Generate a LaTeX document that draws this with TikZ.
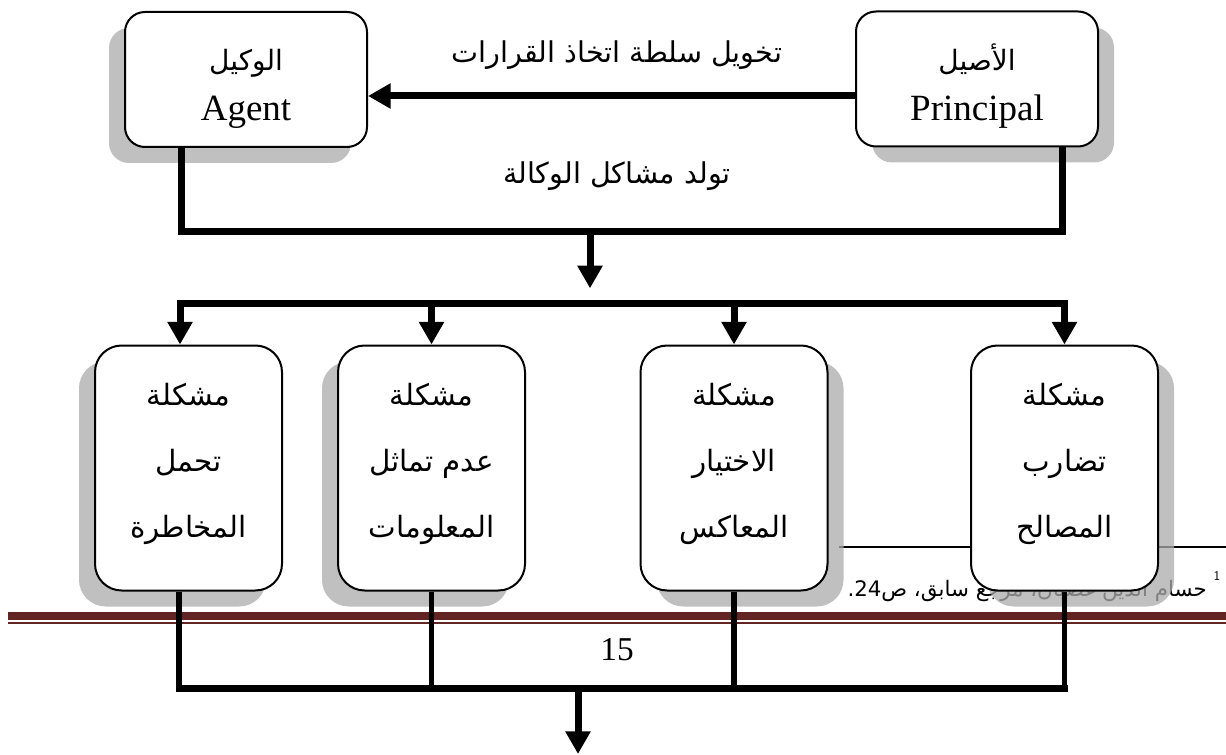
\documentclass[tikz,border=0pt]{standalone}
\usepackage{fontspec}
\setmainfont{Liberation Serif}
\newfontfamily\arabicfont[Script=Arabic]{DejaVu Sans}
\TeXXeTstate=1
\usetikzlibrary{arrows.meta,shadows,calc}
\definecolor{shadowgray}{RGB}{171,171,171}
\definecolor{rulemaroon}{RGB}{99,37,35}
% right-to-left Arabic run at a given size
\newcommand\artxt[2][21]{{\arabicfont\fontsize{#1}{#1}\selectfont\beginR #2\endR}}
% struts that push the text block of a box down or up
\newcommand\topstrut{\rule{0pt}{30pt}}
\newcommand\lowstrut{\rule[-12pt]{0pt}{12pt}}
\begin{document}
\begin{tikzpicture}[x=0.75pt,y=-0.75pt,
  box/.style={draw, line width=1.5pt, fill=white, align=center, inner sep=0pt},
  topbox/.style={box, rounded corners=15pt, minimum width=181.5pt, minimum height=101.25pt,
    font=\fontsize{27.75}{37.5}\selectfont},
  lowbox/.style={box, rounded corners=20pt, minimum width=140.25pt, minimum height=183.75pt,
    font=\fontsize{22.5}{49.5}\selectfont},
  shadowleft/.style={drop shadow={shadow xshift=-12pt, shadow yshift=-12pt, fill=shadowgray, opacity=0.75}},
  shadowright/.style={drop shadow={shadow xshift=12pt, shadow yshift=-12pt, fill=shadowgray, opacity=0.75}},
  heavy/.style={line width=5.25pt},
  feeder/.style={line width=4.3pt},
  tip/.style={-{Triangle[length=17pt,width=18pt]}},
]
\useasboundingbox (0,0) rectangle (1226,755);

% footnote of the page
\draw[line width=1pt] (839,547) -- (1226,547);
\node[anchor=base east, inner sep=0pt] (fntext) at (1207,596)
  {\artxt[16]{حسام الدين غضبان، مرجع سابق، ص\beginL 24\endL.}};
\node[anchor=base, inner sep=0pt, font=\sffamily\fontsize{10}{10}\selectfont] (fnmark) at (1217,580) {1};

% page separator and page number
\fill[rulemaroon] (8,612) rectangle (1226,620);
\fill[rulemaroon] (8,622) rectangle (1226,624);
\node[font=\fontsize{25}{25}\selectfont] (pageno) at (617,650) {15};

% principal and agent
\node[topbox, shadowleft] (agent) at (246,79.5) {\topstrut\artxt{الوكيل}\\Agent};
\node[topbox, shadowright] (principal) at (977,79) {\topstrut\artxt{الأصيل}\\Principal};

\node (delegate) at (617,55) {\artxt[21.5]{تخويل سلطة اتخاذ القرارات}};
\node (agency) at (617,176) {\artxt[21.5]{تولد مشاكل الوكالة}};

% the four agency problems
\node[lowbox, shadowleft] (risk) at (188.5,468)
  {\artxt[22]{مشكلة}\\\artxt[22]{تحمل}\\\artxt[22]{المخاطرة}\lowstrut};
\node[lowbox, shadowleft] (asym) at (431.5,468)
  {\artxt[22]{مشكلة}\\\artxt[22]{عدم تماثل}\\\artxt[22]{المعلومات}\lowstrut};
\node[lowbox, shadowright] (adverse) at (734,468)
  {\artxt[22]{مشكلة}\\\artxt[22]{الاختيار}\\\artxt[22]{المعاكس}\lowstrut};
\node[lowbox, shadowright] (conflict) at (1064.5,468)
  {\artxt[22]{مشكلة}\\\artxt[22]{تضارب}\\\artxt[22]{المصالح}\lowstrut};

% delegation arrow
\draw[heavy, tip] ($(principal.west)+(0,17)$) -- ($(agent.east)+(0,16.5)$);

% bracket joining principal and agent
\coordinate (busA) at (181,232);
\coordinate (busP) at (1062,232);
\coordinate (hubTop) at (590,232);
\coordinate (hubSplit) at (590,303);
\draw[heavy] ($(agent.south)+(-65,0)$) -- (busA) -- (busP) -- ($(principal.south)+(85,0)$);
\draw[heavy, tip, shorten >=11pt] (hubTop) -- (hubSplit);

% distribution to the four problems
\coordinate (distL) at (180,303);
\coordinate (distR) at (1064.5,303);
\draw[heavy, line cap=rect] (distL) -- (distR);
\draw[heavy, tip] (distL) -- ($(risk.north)+(-8.5,0)$);
\draw[heavy, tip] (asym.north |- distL) -- (asym.north);
\draw[heavy, tip] (adverse.north |- distL) -- (adverse.north);
\draw[heavy, tip] (distR) -- (conflict.north);

% collecting bus below the problems
\coordinate (colL) at (179,688);
\coordinate (outTop) at (578,688);
\coordinate (outEnd) at (578,754);
\draw[feeder] ($(risk.south)+(-9.5,0)$) -- (colL);
\draw[feeder] (asym.south) -- (asym.south |- colL);
\draw[feeder] (adverse.south) -- (adverse.south |- colL);
\draw[feeder] (conflict.south) -- (conflict.south |- colL);
\draw[heavy, line cap=rect] (colL) -- (conflict.south |- colL);
\draw[heavy, tip] (outTop) -- (outEnd);
\end{tikzpicture}
\end{document}
